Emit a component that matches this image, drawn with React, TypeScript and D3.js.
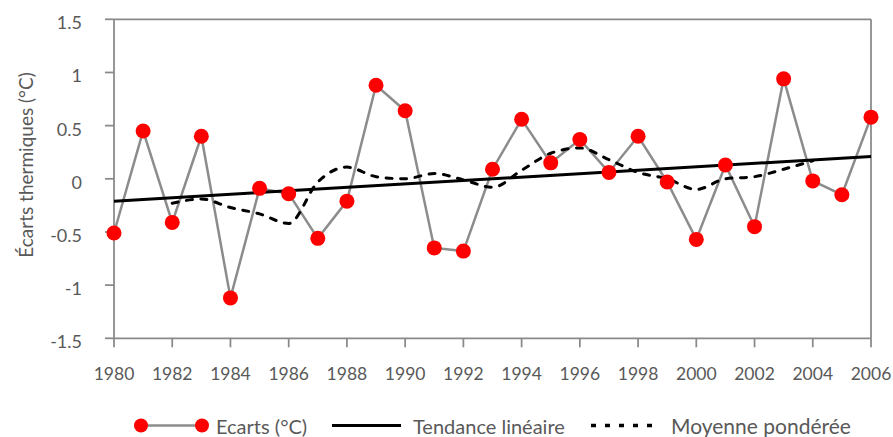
import React from "react";
import * as d3 from "d3";

const years = [1980, 1981, 1982, 1983, 1984, 1985, 1986, 1987, 1988, 1989, 1990, 1991, 1992, 1993, 1994, 1995, 1996, 1997, 1998, 1999, 2000, 2001, 2002, 2003, 2004, 2005, 2006];
const ecarts = [-0.51, 0.45, -0.41, 0.40, -1.12, -0.09, -0.14, -0.56, -0.21, 0.88, 0.64, -0.65, -0.68, 0.09, 0.56, 0.15, 0.37, 0.06, 0.40, -0.03, -0.57, 0.13, -0.45, 0.94, -0.02, -0.15, 0.58];
const trendYears = [1980, 2006];
const trendValues = [-0.21, 0.21];
const maYears = [1982, 1983, 1984, 1985, 1986, 1987, 1988, 1989, 1990, 1991, 1992, 1993, 1994, 1995, 1996, 1997, 1998, 1999, 2000, 2001, 2002, 2003, 2004];
const maValues = [-0.23, -0.19, -0.27, -0.33, -0.42, -0.03, 0.11, 0.02, 0.00, 0.05, -0.01, -0.08, 0.08, 0.24, 0.29, 0.18, 0.06, 0.00, -0.10, 0.00, 0.02, 0.09, 0.17];
const xTicks = [1980, 1982, 1984, 1986, 1988, 1990, 1992, 1994, 1996, 1998, 2000, 2002, 2004, 2006];
const yTicks = [-1.5, -1, -0.5, 0, 0.5, 1, 1.5];
const yTitle = "Écarts thermiques (°C)";
const legendLabels = ["Ecarts (°C)", "Tendance linéaire", "Moyenne pondérée"];

const W = 893, H = 437;
const left = 114, right = 871, top = 19.3, bottom = 338.3;
const FONT = "Lato, 'Open Sans', sans-serif";
const AXIS = "#898989";
const TEXT = "#595959";

export default function App() {
  const x = d3.scaleLinear().domain([1980, 2006]).range([left, right]);
  const y = d3.scaleLinear().domain([-1.5, 1.5]).range([bottom, top]);

  const line = d3.line<[number, number]>().x(d => x(d[0])).y(d => y(d[1]));
  const smooth = d3.line<[number, number]>().x(d => x(d[0])).y(d => y(d[1])).curve(d3.curveMonotoneX);

  const dataPts = years.map((yr, i) => [yr, ecarts[i]] as [number, number]);
  const trendPts = trendYears.map((yr, i) => [yr, trendValues[i]] as [number, number]);
  const maPts = maYears.map((yr, i) => [yr, maValues[i]] as [number, number]);

  const legY = 425.5;

  return (
    <svg width={W} height={H} style={{ position: "absolute", left: 0, top: 0, background: "#fff" }} fontFamily={FONT}>
      {/* frame */}
      <line x1={left} x2={right} y1={top} y2={top} stroke={AXIS} strokeWidth={1.75} />
      <line x1={right} x2={right} y1={top} y2={bottom} stroke={AXIS} strokeWidth={1.75} />
      <line x1={left} x2={left} y1={top} y2={bottom} stroke={AXIS} strokeWidth={1.75} />
      <line x1={left} x2={right} y1={bottom} y2={bottom} stroke={AXIS} strokeWidth={1.75} />
      {yTicks.map(t => (
        <g key={"y" + t}>
          <line x1={left - 9} x2={left} y1={y(t)} y2={y(t)} stroke={AXIS} strokeWidth={1.75} />
          <text x={82} y={y(t) + 3} textAnchor="end" dominantBaseline="central" fontSize={18} fill={TEXT}>{t}</text>
        </g>
      ))}
      {xTicks.map(t => (
        <g key={"x" + t}>
          <line x1={x(t)} x2={x(t)} y1={bottom} y2={bottom + 9} stroke={AXIS} strokeWidth={1.75} />
          <text x={x(t)} y={373} textAnchor="middle" dominantBaseline="central" fontSize={17.5} fill={TEXT}>{t}</text>
        </g>
      ))}
      <text transform={`translate(25,165) rotate(-90)`} textAnchor="middle" dominantBaseline="central" fontSize={19} fill={TEXT}>{yTitle}</text>

      {/* series */}
      <path d={line(dataPts) || ""} fill="none" stroke="#8c8c8c" strokeWidth={2.5} />
      <path d={line(trendPts) || ""} fill="none" stroke="#000" strokeWidth={3} />
      <path d={smooth(maPts) || ""} fill="none" stroke="#000" strokeWidth={3} strokeDasharray="6,8.5" strokeLinecap="round" />
      {dataPts.map(d => (
        <circle key={"c" + d[0]} cx={x(d[0])} cy={y(d[1])} r={7.5} fill="#ff0000" />
      ))}

      {/* legend */}
      <line x1={141} x2={202} y1={legY} y2={legY} stroke="#8c8c8c" strokeWidth={2.5} />
      <circle cx={141} cy={legY} r={7} fill="#ff0000" />
      <circle cx={202} cy={legY} r={7} fill="#ff0000" />
      <text x={216} y={legY} dominantBaseline="central" fontSize={20} fill={TEXT}>{legendLabels[0]}</text>
      <line x1={332} x2={401} y1={legY} y2={legY} stroke="#000" strokeWidth={3} />
      <text x={413} y={legY} dominantBaseline="central" fontSize={20} fill={TEXT}>{legendLabels[1]}</text>
      <line x1={591} x2={657} y1={legY} y2={legY} stroke="#000" strokeWidth={3.5} strokeDasharray="5,9" />
      <text x={671} y={legY} dominantBaseline="central" fontSize={21} fill={TEXT}>{legendLabels[2]}</text>
    </svg>
  );
}
